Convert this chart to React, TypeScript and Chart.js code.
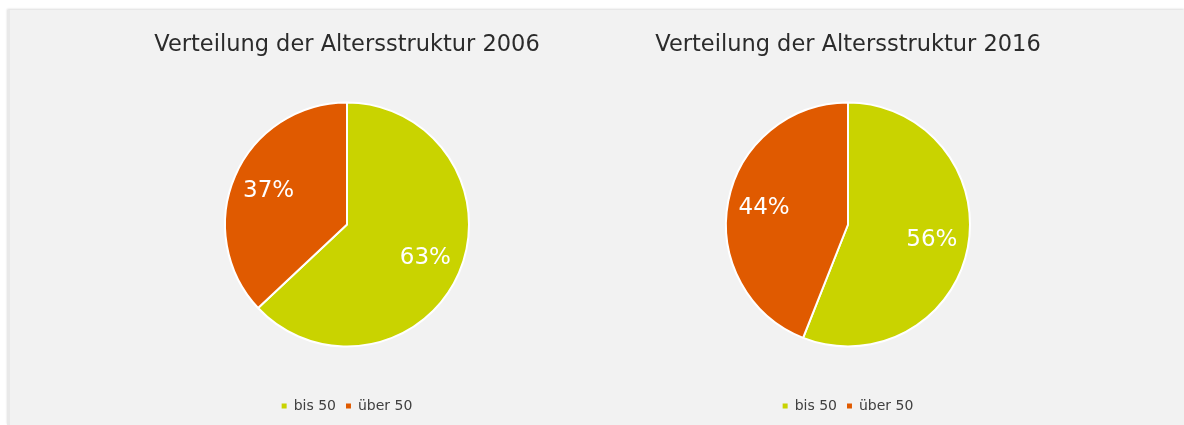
import React, { useEffect, useRef } from "react";
import { Chart, registerables } from "chart.js";

Chart.register(...registerables);

const categories = ["bis 50", "über 50"];
const values2006 = [63, 37];
const values2016 = [56, 44];
const title2006 = "Verteilung der Altersstruktur 2006";
const title2016 = "Verteilung der Altersstruktur 2016";
const sliceColors = ["#c9d300", "#e05a00"];

const FONT = "'DejaVu Sans', Verdana, sans-serif";

const pctLabels = {
  id: "pctLabels",
  afterDatasetsDraw(chart: any) {
    const ctx = chart.ctx;
    const meta = chart.getDatasetMeta(0);
    const data = chart.data.datasets[0].data as number[];
    const total = data.reduce((a: number, b: number) => a + b, 0);
    ctx.save();
    ctx.fillStyle = "#ffffff";
    ctx.font = `23px ${FONT}`;
    ctx.textAlign = "center";
    ctx.textBaseline = "middle";
    meta.data.forEach((arc: any, i: number) => {
      const { x, y, startAngle, endAngle, outerRadius } = arc.getProps(
        ["x", "y", "startAngle", "endAngle", "outerRadius"],
        true
      );
      const mid = (startAngle + endAngle) / 2;
      const r = outerRadius * 0.7;
      const pct = Math.round((data[i] / total) * 100);
      ctx.fillText(pct + "%", x + Math.cos(mid) * r, y + Math.sin(mid) * r);
    });
    ctx.restore();
  },
};

function PieChart({ title, values, left }: { title: string; values: number[]; left: number }) {
  const ref = useRef<HTMLCanvasElement>(null);
  useEffect(() => {
    if (!ref.current) return;
    const chart = new Chart(ref.current, {
      type: "pie",
      data: {
        labels: categories,
        datasets: [
          {
            data: values,
            backgroundColor: sliceColors,
            borderColor: "#ffffff",
            borderWidth: 2,
            radius: 122,
          },
        ],
      },
      options: {
        animation: false,
        responsive: false,
        maintainAspectRatio: false,
        layout: { padding: { bottom: 2 } },
        plugins: {
          tooltip: { enabled: false },
          title: {
            display: true,
            text: title,
            color: "#2b2b2b",
            font: { family: FONT, size: 22.5, weight: "normal" },
            padding: { top: 22, bottom: 1 },
          },
          legend: {
            position: "bottom",
            labels: {
              color: "#404040",
              font: { family: FONT, size: 14 },
              boxWidth: 5,
              boxHeight: 5,
              padding: 10,
              generateLabels: (c: any) =>
                c.data.labels.map((l: string, i: number) => ({
                  text: l,
                  fillStyle: sliceColors[i],
                  strokeStyle: sliceColors[i],
                  lineWidth: 0,
                  fontColor: "#404040",
                  index: i,
                  hidden: false,
                })),
            },
          },
        },
      },
      plugins: [pctLabels],
    });
    return () => chart.destroy();
  }, [title, values]);
  return (
    <canvas
      ref={ref}
      width={500}
      height={415}
      style={{ position: "absolute", left, top: 10, width: 500, height: 415 }}
    />
  );
}

export default function App() {
  return (
    <div>
      <div
        style={{
          position: "absolute",
          left: 7,
          top: 10,
          width: 1177,
          height: 415,
          background: "#f2f2f2",
          borderLeft: "3px solid #e9e9e9",
          boxSizing: "border-box",
          boxShadow: "0 -1px 2px #dcdcdc",
        }}
      />
      <PieChart title={title2006} values={values2006} left={97} />
      <PieChart title={title2016} values={values2016} left={598} />
    </div>
  );
}
